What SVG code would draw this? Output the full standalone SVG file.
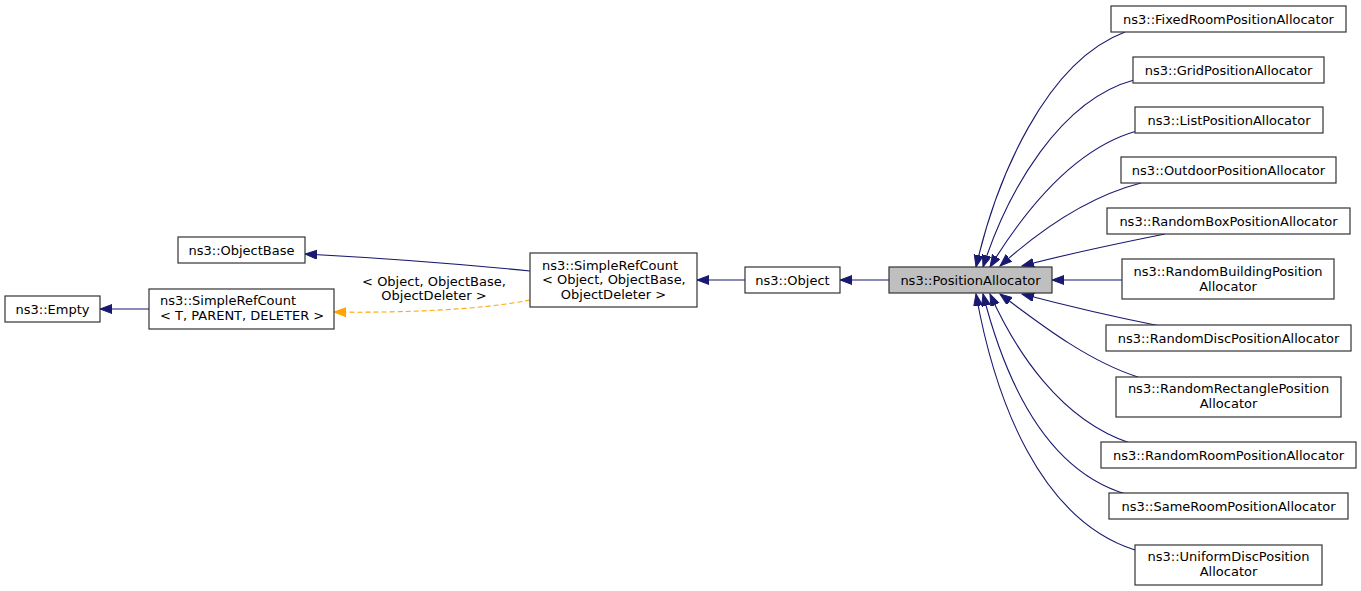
<svg xmlns="http://www.w3.org/2000/svg" width="1361" height="591" viewBox="0 0 1361 591">
<style>
.box{fill:#ffffff;stroke:#333333;stroke-width:1.2}
.cur{fill:#bfbfbf;stroke:#333333;stroke-width:1.2}
text{font-family:"DejaVu Sans","Liberation Sans",sans-serif;font-size:13px;fill:#000}
.c{text-anchor:middle}
.e{fill:none;stroke:#191970;stroke-width:1.1}
.d{fill:none;stroke:#ffa500;stroke-width:1.1;stroke-dasharray:5,3}
</style>
<defs>
<marker id="a" markerUnits="userSpaceOnUse" markerWidth="14" markerHeight="11" refX="12" refY="4.5" orient="auto">
<path d="M0,0 L12,4.5 L0,9 z" fill="#191970" stroke="#191970"/>
</marker>
<marker id="o" markerUnits="userSpaceOnUse" markerWidth="14" markerHeight="11" refX="12" refY="4.5" orient="auto">
<path d="M0,0 L12,4.5 L0,9 z" fill="#ffa500" stroke="#ffa500"/>
</marker>
</defs>
<rect width="1361" height="591" fill="#ffffff"/>
<g id="connectors">
<path class="e" marker-end="url(#a)" d="M149,309 L100,309"/>
<path class="e" marker-end="url(#a)" d="M530,271 C460,264 380,258 305,254"/>
<path class="d" marker-end="url(#o)" d="M530,300 C480,310 400,313 334,312"/>
<path class="e" marker-end="url(#a)" d="M745,280 L697,280"/>
<path class="e" marker-end="url(#a)" d="M889,280 L840,280"/>
<path class="e" marker-end="url(#a)" d="M1125,32 C1045,62 996,180 976,267"/>
<path class="e" marker-end="url(#a)" d="M1134,80 C1060,100 1008,190 983,267"/>
<path class="e" marker-end="url(#a)" d="M1137,131 C1075,148 1025,210 990,267"/>
<path class="e" marker-end="url(#a)" d="M1141,183 C1090,196 1040,230 1000,266"/>
<path class="e" marker-end="url(#a)" d="M1165,234 C1125,242 1075,252 1022,266"/>
<path class="e" marker-end="url(#a)" d="M1122,280 L1052,280"/>
<path class="e" marker-end="url(#a)" d="M1160,326 C1120,318 1075,308 1022,294"/>
<path class="e" marker-end="url(#a)" d="M1138,377 C1085,360 1035,320 1000,294"/>
<path class="e" marker-end="url(#a)" d="M1130,443 C1060,420 1015,350 990,294"/>
<path class="e" marker-end="url(#a)" d="M1126,494 C1045,470 1005,380 983,294"/>
<path class="e" marker-end="url(#a)" d="M1135,550 C1040,520 995,400 976,294"/>
<text class="c" x="434" y="286">&lt; Object, ObjectBase,</text>
<text class="c" x="434" y="300">ObjectDeleter &gt;</text>
</g>
<g id="empty"><rect class="box" x="5" y="296" width="95" height="26"/><text class="c" x="52.5" y="313.5">ns3::Empty</text></g>
<g id="srcT"><rect class="box" x="149" y="289" width="185" height="40"/><text x="160" y="305">ns3::SimpleRefCount</text><text x="160" y="320">&lt; T, PARENT, DELETER &gt;</text></g>
<g id="objectbase"><rect class="box" x="178" y="237" width="127" height="26"/><text class="c" x="241.5" y="254.5">ns3::ObjectBase</text></g>
<g id="srcObj"><rect class="box" x="530" y="253" width="167" height="54"/><text x="542" y="269.5">ns3::SimpleRefCount</text><text x="542" y="284">&lt; Object, ObjectBase,</text><text class="c" x="613.5" y="298.5">ObjectDeleter &gt;</text></g>
<g id="object"><rect class="box" x="745" y="267" width="95" height="26"/><text class="c" x="792.5" y="284.5">ns3::Object</text></g>
<g id="posalloc"><rect class="cur" x="889" y="267" width="163" height="26"/><text class="c" x="970.5" y="284.5">ns3::PositionAllocator</text></g>
<g id="fixedroom"><rect class="box" x="1111" y="6" width="235" height="26"/><text class="c" x="1228.5" y="23.5">ns3::FixedRoomPositionAllocator</text></g>
<g id="grid"><rect class="box" x="1133" y="57" width="191" height="26"/><text class="c" x="1228.5" y="74.5">ns3::GridPositionAllocator</text></g>
<g id="list"><rect class="box" x="1135" y="107" width="188" height="26"/><text class="c" x="1229" y="124.5">ns3::ListPositionAllocator</text></g>
<g id="outdoor"><rect class="box" x="1121" y="157" width="215" height="26"/><text class="c" x="1228.5" y="174.5">ns3::OutdoorPositionAllocator</text></g>
<g id="randombox"><rect class="box" x="1107" y="208" width="243" height="26"/><text class="c" x="1228.5" y="225.5">ns3::RandomBoxPositionAllocator</text></g>
<g id="randombuilding"><rect class="box" x="1122" y="259" width="212" height="40"/><text class="c" x="1228" y="275.5">ns3::RandomBuildingPosition</text><text class="c" x="1228" y="290.5">Allocator</text></g>
<g id="randomdisc"><rect class="box" x="1106" y="325" width="245" height="26"/><text class="c" x="1228.5" y="342.5">ns3::RandomDiscPositionAllocator</text></g>
<g id="randomrect"><rect class="box" x="1116" y="377" width="225" height="40"/><text class="c" x="1228.5" y="393">ns3::RandomRectanglePosition</text><text class="c" x="1228.5" y="408">Allocator</text></g>
<g id="randomroom"><rect class="box" x="1101" y="442" width="255" height="26"/><text class="c" x="1228.5" y="459.5">ns3::RandomRoomPositionAllocator</text></g>
<g id="sameroom"><rect class="box" x="1109" y="493" width="239" height="26"/><text class="c" x="1228.5" y="510.5">ns3::SameRoomPositionAllocator</text></g>
<g id="uniformdisc"><rect class="box" x="1135" y="545" width="187" height="40"/><text class="c" x="1228.5" y="561">ns3::UniformDiscPosition</text><text class="c" x="1228.5" y="576">Allocator</text></g>
</svg>
